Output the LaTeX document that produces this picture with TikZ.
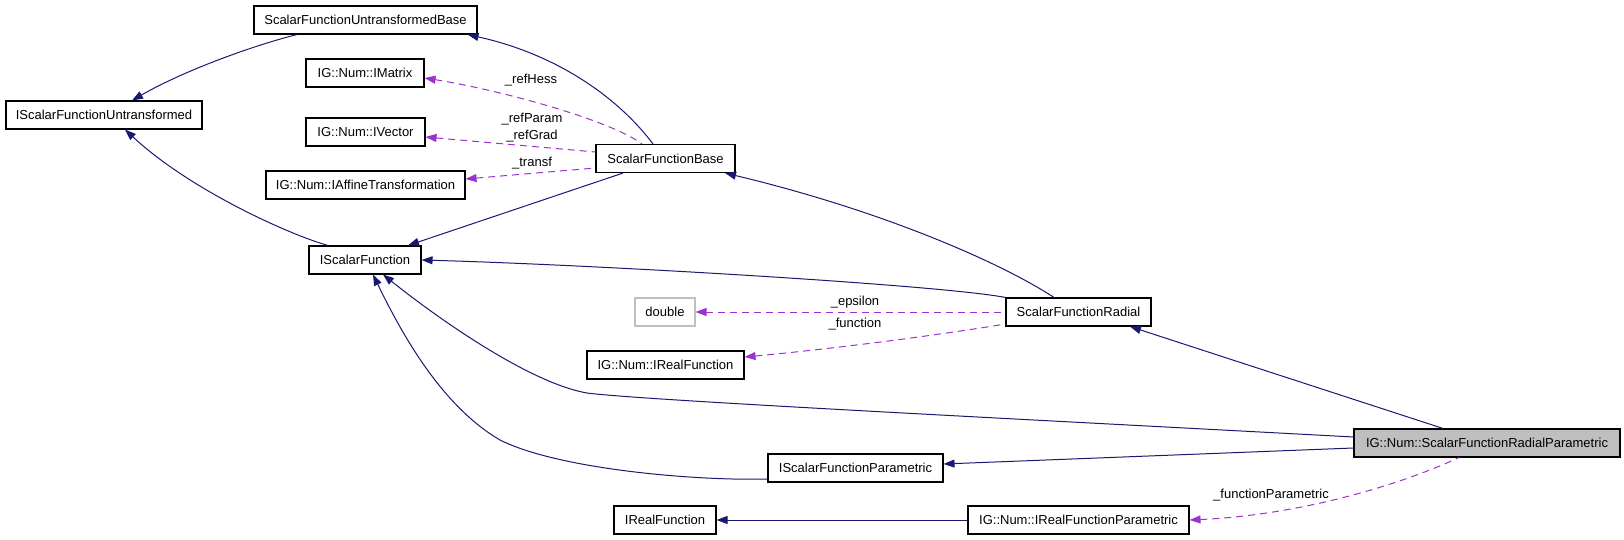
\documentclass[tikz,border=0pt]{standalone}
\usepackage{fontspec}
\setmainfont{Liberation Sans}
\usetikzlibrary{arrows.meta}
\definecolor{edgeblue}{HTML}{191970}
\definecolor{usepurple}{HTML}{9A32CD}
\definecolor{rootgray}{HTML}{BFBFBF}
\newcommand{\dotfont}{\fontsize{13}{17}\selectfont}

\begin{document}
\begin{tikzpicture}[x=1pt, y=-1pt, >={Triangle[length=11pt,width=8pt]},
  cls/.style={rectangle, draw=black, fill=white, line width=1.1pt, minimum height=28pt, inner sep=0pt, font=\dotfont},
  root/.style={cls, fill=rootgray},
  ext/.style={cls, draw=rootgray},
  inh/.style={<-, edgeblue, line width=1pt},
  use/.style={<-, usepurple, line width=1pt, dash pattern=on 7pt off 5pt},
  lbl/.style={font=\dotfont, inner sep=0pt, align=center}]

  \useasboundingbox (0,0) rectangle (1624,540);

  % classes
  \node[cls, minimum width=223pt] (sfub) at (365.5,20) {ScalarFunctionUntransformedBase};
  \node[cls, minimum width=196pt] (isfu) at (104,115) {IScalarFunctionUntransformed};
  \node[cls, minimum width=118pt] (imat) at (365,73) {IG::Num::IMatrix};
  \node[cls, minimum width=119pt] (ivec) at (365.5,132) {IG::Num::IVector};
  \node[cls, minimum width=199pt] (iaff) at (365.5,185) {IG::Num::IAffineTransformation};
  \node[cls, minimum width=139pt] (sfb) at (665.5,158.5) {ScalarFunctionBase};
  \node[cls, minimum width=112pt] (isf) at (365,260) {IScalarFunction};
  \node[ext, minimum width=60pt] (dbl) at (665,312) {double};
  \node[cls, minimum width=145pt] (sfr) at (1078.5,312) {ScalarFunctionRadial};
  \node[cls, minimum width=157pt] (igirf) at (665.5,365) {IG::Num::IRealFunction};
  \node[cls, minimum width=175pt] (isfp) at (855.5,468) {IScalarFunctionParametric};
  \node[cls, minimum width=102pt] (irf) at (665,520) {IRealFunction};
  \node[cls, minimum width=221pt] (irfp) at (1078.5,520) {IG::Num::IRealFunctionParametric};
  \node[root, minimum width=266pt] (sfrp) at (1487,443) {IG::Num::ScalarFunctionRadialParametric};

  % inheritance
  \draw[inh] ([xshift=28pt]isfu.north) .. controls (185,70) and (255,45) .. ([xshift=-68.5pt]sfub.south);
  \draw[inh] ([xshift=-10pt]sfub.south east) .. controls (560,55) and (620,100) .. ([xshift=-12.5pt]sfb.north);
  \draw[inh] ([xshift=21pt]isfu.south) .. controls (190,190) and (290,235) .. ([xshift=-37pt]isf.north);
  \draw[inh] ([xshift=43pt]isf.north) -- ([xshift=-42.5pt]sfb.south);
  \draw[inh] (isf.east) .. controls (600,265) and (940,285) .. (sfr.north west);
  \draw[inh] ([xshift=59.5pt]sfb.south) .. controls (880,210) and (1000,262) .. ([xshift=-24.5pt]sfr.north);
  \draw[inh] ([xshift=18pt]isf.south) .. controls (440,320) and (530,383) .. (587,393)
    .. controls (640,400) and (1000,418) .. ([yshift=6pt]sfrp.west);
  \draw[inh] ([xshift=8pt]isf.south) .. controls (400,330) and (440,405) .. (500,440)
    .. controls (560,470) and (700,481) .. ([yshift=-11pt]isfp.west);
  \draw[inh] ([xshift=51.5pt]sfr.south) -- ([xshift=-44pt]sfrp.north);
  \draw[inh] ([yshift=4pt]isfp.east) -- ([yshift=-5pt]sfrp.west);
  \draw[inh] (irf.east) -- (irfp.west);

  % members
  \draw[use] ([yshift=-5pt]imat.east) .. controls (500,90) and (610,120) .. ([xshift=-23.5pt]sfb.north);
  \draw[use] ([yshift=-5pt]ivec.east) -- ([yshift=6.5pt]sfb.west);
  \draw[use] ([yshift=6pt]iaff.east) -- ([yshift=-9.5pt]sfb.west);
  \draw[use] (dbl.east) -- (sfr.west);
  \draw[use] ([yshift=8pt]igirf.east) .. controls (820,350) and (920,338) .. ([yshift=-12pt]sfr.west);
  \draw[use] (irfp.east) .. controls (1300,515) and (1400,485) .. ([xshift=-28pt]sfrp.south);

  \node[lbl] (lhess) at (531,80) {\_refHess};
  \node[lbl] (lparam) at (532,127.5) {\_refParam\\\_refGrad};
  \node[lbl] (ltransf) at (532,163) {\_transf};
  \node[lbl] (leps) at (855,302) {\_epsilon};
  \node[lbl] (lfun) at (855,324) {\_function};
  \node[lbl] (lfunp) at (1271,495) {\_functionParametric};
\end{tikzpicture}
\end{document}
